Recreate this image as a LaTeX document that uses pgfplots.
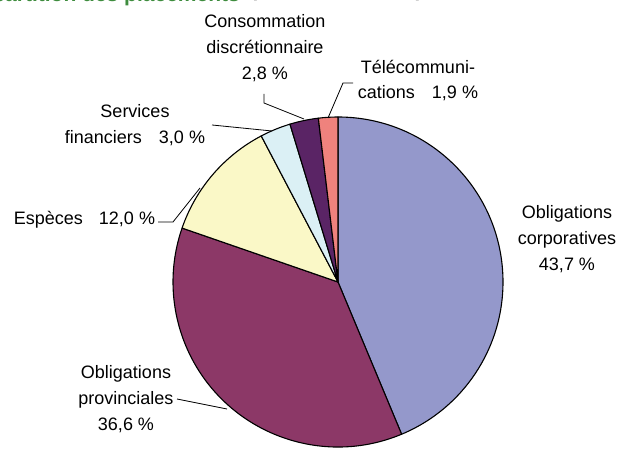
\documentclass[border=0pt]{standalone}
\usepackage{fontspec}
\setmainfont{Liberation Sans}
\usepackage{pgfplots}
\pgfplotsset{compat=1.18}
\definecolor{cBlue}{RGB}{148,152,203}
\definecolor{cMaroon}{RGB}{140,56,103}
\definecolor{cYellow}{RGB}{250,248,199}
\definecolor{cCyan}{RGB}{219,240,245}
\definecolor{cPurple}{RGB}{90,36,101}
\definecolor{cPink}{RGB}{239,130,125}
\definecolor{cTitle}{RGB}{62,140,62}
% slice: start cumulative %, end cumulative %, colour (clockwise from top)
\newcommand\slice[3]{%
  \filldraw[fill=#3, draw=black, line width=1.1pt, line join=round]
    (axis cs:338,282) -- ++({90-3.6*#1}:165pt)
    arc[start angle={90-3.6*#1}, end angle={90-3.6*#2}, radius=165pt] -- cycle;}
\begin{document}
\begin{tikzpicture}
\path[use as bounding box, clip] (0,0) rectangle (622pt,449pt);
\begin{axis}[at={(0,0)}, anchor=south west, scale only axis,
  width=622pt, height=449pt, xmin=0, xmax=622, ymin=0, ymax=449,
  y dir=reverse, hide axis, clip=false]
% values: Obligations corporatives 43.7, Obligations provinciales 36.6,
% Especes 12.0, Services financiers 3.0, Consommation discr. 2.8, Telecom 1.9
\slice{0}{43.7}{cBlue}
\slice{43.7}{80.3}{cMaroon}
\slice{80.3}{92.3}{cYellow}
\slice{92.3}{95.3}{cCyan}
\slice{95.3}{98.1}{cPurple}
\slice{98.1}{100}{cPink}
% leader lines
\draw[black, line width=0.8pt] (axis cs:158,222) -- (axis cs:173,222) -- (axis cs:200,188);
\draw[black, line width=0.8pt] (axis cs:212,125) -- (axis cs:272,131);
\draw[black, line width=0.8pt] (axis cs:264,94) -- (axis cs:264,103) -- (axis cs:304,119);
\draw[black, line width=0.8pt] (axis cs:353,83) -- (axis cs:343,83) -- (axis cs:328,118);
\draw[black, line width=0.8pt] (axis cs:177,399) -- (axis cs:227,409);
% labels
\tikzset{lab/.style={align=center, inner sep=0pt, font=\fontsize{18}{25.8}\selectfont}}
\node[lab] at (axis cs:265,48) {Consommation\\discrétionnaire\\2,8 \%};
\node[lab] at (axis cs:418,80.5) {Télécommuni-\\cations\hspace{17pt}1,9 \%};
\node[lab] at (axis cs:135,125) {Services\\financiers\hspace{17pt}3,0 \%};
\node[lab] at (axis cs:84.5,220) {Espèces\hspace{16pt}12,0 \%};
\node[lab] at (axis cs:567,239) {Obligations\\corporatives\\43,7 \%};
\node[lab] at (axis cs:126,399) {Obligations\\provinciales\\36,6 \%};
% title (cut off at the top)
\node[anchor=base east, inner sep=0pt, text=cTitle, font=\fontsize{21}{24}\selectfont\bfseries] at (axis cs:240,1.5) {Répartition des placements};
\node[anchor=base west, inner sep=0pt, text=gray, font=\fontsize{21}{24}\selectfont\bfseries] at (axis cs:250,-3.5) {(au 31 décembre)};
\end{axis}
\end{tikzpicture}
\end{document}
